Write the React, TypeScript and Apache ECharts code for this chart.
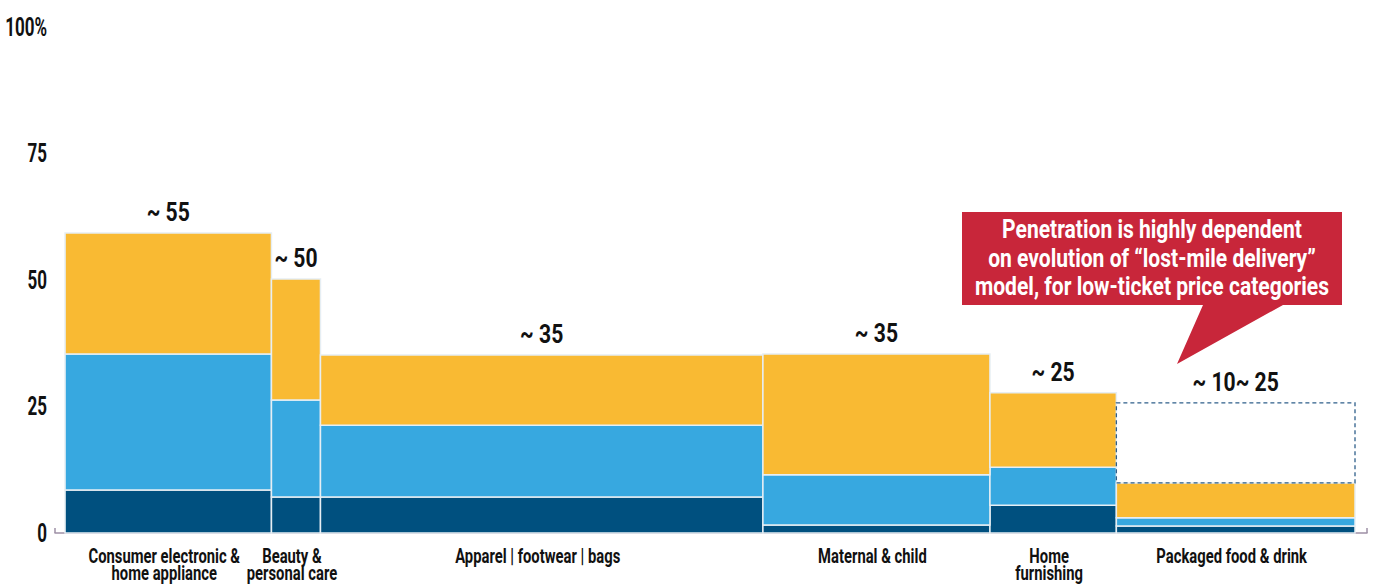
import React, { useEffect, useRef } from "react";
import * as echarts from "echarts";

const categories = [
  "Consumer electronic &\nhome appliance",
  "Beauty &\npersonal care",
  "Apparel | footwear | bags",
  "Maternal & child",
  "Home\nfurnishing",
  "Packaged food & drink",
];
const widths = [16.0, 3.8, 34.3, 17.6, 9.8, 18.5];
const darkValues = [8.5, 7.1, 7.1, 1.6, 5.5, 1.4];
const blueValues = [26.9, 19.2, 14.2, 9.9, 7.5, 1.6];
const yellowValues = [23.9, 23.9, 13.9, 23.9, 14.7, 6.9];
const potentialTop = [null, null, null, null, null, 25.7];
const topLabels = ["~ 55", "~ 50", "~ 35", "~ 35", "~ 25", "~ 10~ 25"];
const yTicks = [0, 25, 50, 75, 100];
const yTickLabels = ["0", "25", "50", "75", "100%"];
const calloutText = [
  "Penetration is highly dependent",
  "on evolution of \u201clost-mile delivery\u201d",
  "model, for low-ticket price categories",
];

const FONT = "Roboto, 'Liberation Sans', sans-serif";
const YELLOW = "#F9BA33";
const BLUE = "#37A8E0";
const DARK = "#00507F";
const X_MIN = -0.78;
const X_MAX = 100.93;

export default function App() {
  const ref = useRef<HTMLDivElement>(null);
  useEffect(() => {
    document.body.style.margin = "0";
    const chart = echarts.init(ref.current!, null, { renderer: "svg" });

    const starts: number[] = [];
    let acc = 0;
    widths.forEach((w) => {
      starts.push(acc);
      acc += w;
    });

    const layer = (vals: number[], bases: number[]) =>
      vals.map((v, i) => [starts[i], starts[i] + widths[i], bases[i], bases[i] + v]);

    const base0 = widths.map(() => 0);
    const base1 = darkValues.slice();
    const base2 = darkValues.map((d, i) => d + blueValues[i]);
    const totals = base2.map((b, i) => b + yellowValues[i]);

    const rectItem = (color: string) => (params: any, api: any) => {
      const p0 = api.coord([api.value(0), api.value(3)]);
      const p1 = api.coord([api.value(1), api.value(2)]);
      return {
        type: "rect",
        shape: { x: p0[0], y: p0[1], width: p1[0] - p0[0], height: p1[1] - p0[1] },
        style: { fill: color, stroke: "#E6EEF3", lineWidth: 1.5 },
      };
    };

    const mkRectSeries = (name: string, data: number[][], color: string) => ({
      type: "custom",
      name,
      renderItem: rectItem(color),
      data,
      encode: { x: [0, 1], y: [2, 3] },
      clip: false,
    });

    const dashedData = potentialTop
      .map((t, i) => (t == null ? null : [starts[i], starts[i] + widths[i], totals[i], t]))
      .filter((d) => d != null) as number[][];

    const topData = topLabels.map((l, i) => [
      starts[i] + widths[i] / 2,
      potentialTop[i] != null ? (potentialTop[i] as number) : totals[i],
      i,
    ]);

    const catData = categories.map((c, i) => [starts[i] + widths[i] / 2, 0, i]);
    const yLabelData = yTicks.map((v, i) => [X_MIN, v, i]);

    const option: any = {
      animation: false,
      grid: { left: 55, right: 9, top: 27, bottom: 52, outerBoundsMode: "none", containLabel: false },
      xAxis: {
        type: "value",
        min: X_MIN,
        max: X_MAX,
        splitLine: { show: false },
        axisLabel: { show: false },
        axisLine: { show: true, onZero: false, lineStyle: { color: "#9E90A6", width: 1.5 } },
        axisTick: {
          show: true,
          inside: true,
          length: 5,
          customValues: [X_MIN, X_MAX],
          lineStyle: { color: "#9E90A6", width: 1.5 },
        },
      },
      yAxis: {
        type: "value",
        min: 0,
        max: 100,
        interval: 25,
        splitLine: { show: false },
        axisLine: { show: false },
        axisTick: { show: false },
        axisLabel: { show: false },
      },
      series: [
        mkRectSeries("dark", layer(darkValues, base0), DARK),
        mkRectSeries("blue", layer(blueValues, base1), BLUE),
        mkRectSeries("yellow", layer(yellowValues, base2), YELLOW),
        {
          type: "custom",
          name: "potential",
          data: dashedData,
          encode: { x: [0, 1], y: [2, 3] },
          clip: false,
          renderItem: (params: any, api: any) => {
            const p0 = api.coord([api.value(0), api.value(3)]);
            const p1 = api.coord([api.value(1), api.value(2)]);
            return {
              type: "rect",
              shape: { x: p0[0], y: p0[1], width: p1[0] - p0[0], height: p1[1] - p0[1] },
              style: { fill: "none", stroke: "#2E5F8A", lineWidth: 1.3, lineDash: [4, 3] },
            };
          },
        },
        {
          type: "custom",
          name: "yLabels",
          data: yLabelData,
          clip: false,
          renderItem: (params: any, api: any) => {
            const p = api.coord([api.value(0), api.value(1)]);
            return {
              type: "text",
              x: p[0] - 8,
              y: p[1],
              scaleX: 0.68,
              style: {
                text: yTickLabels[api.value(2)],
                fill: "#111",
                font: `bold 25px ${FONT}`,
                align: "right",
                verticalAlign: "middle",
              },
            };
          },
        },
        {
          type: "custom",
          name: "topLabels",
          data: topData,
          clip: false,
          renderItem: (params: any, api: any) => {
            const p = api.coord([api.value(0), api.value(1)]);
            return {
              type: "text",
              x: p[0],
              y: p[1] - 20,
              scaleX: 0.845,
              style: {
                text: topLabels[api.value(2)],
                fill: "#111",
                font: `bold 25px ${FONT}`,
                align: "center",
                verticalAlign: "middle",
              },
            };
          },
        },
        {
          type: "custom",
          name: "categories",
          data: catData,
          clip: false,
          renderItem: (params: any, api: any) => {
            const p = api.coord([api.value(0), api.value(1)]);
            return {
              type: "text",
              x: p[0] - 4,
              y: p[1] + 14,
              scaleX: 0.705,
              style: {
                text: categories[api.value(2)],
                fill: "#111",
                font: `bold 21px ${FONT}`,
                lineHeight: 17,
                align: "center",
                verticalAlign: "top",
              },
            };
          },
        },
      ],
      graphic: [
        {
          type: "polygon",
          shape: {
            points: [
              [962, 212],
              [1342, 212],
              [1342, 305],
              [1283, 305],
              [1177, 364],
              [1203, 305],
              [962, 305],
            ],
          },
          style: { fill: "#C8263A" },
        },
        {
          type: "text",
          x: 1152,
          y: 258,
          scaleX: 0.81,
          style: {
            text: calloutText.join("\n"),
            fill: "#fff",
            font: `bold 26px ${FONT}`,
            lineHeight: 28.5,
            align: "center",
            verticalAlign: "middle",
          },
        },
      ],
    };
    chart.setOption(option);
    return () => chart.dispose();
  }, []);
  return <div ref={ref} style={{ width: 1376, height: 585 }} />;
}
